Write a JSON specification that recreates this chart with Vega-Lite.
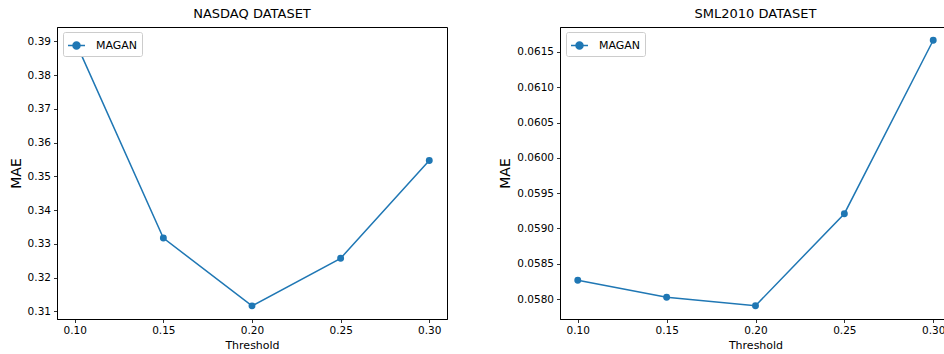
{
  "$schema": "https://vega.github.io/schema/vega-lite/v6.json",
  "padding": {"left": 8, "top": 7, "right": 0, "bottom": 0},
  "spacing": 50,
  "resolve": {"scale": {"color": "independent"}, "legend": {"color": "independent"}},
  "datasets": {
    "nasdaq": [
      {"threshold": 0.10, "mae": 0.3904, "series": "MAGAN"},
      {"threshold": 0.15, "mae": 0.3317, "series": "MAGAN"},
      {"threshold": 0.20, "mae": 0.3116, "series": "MAGAN"},
      {"threshold": 0.25, "mae": 0.3257, "series": "MAGAN"},
      {"threshold": 0.30, "mae": 0.3547, "series": "MAGAN"}
    ],
    "sml": [
      {"threshold": 0.10, "mae": 0.058266, "series": "MAGAN"},
      {"threshold": 0.15, "mae": 0.058024, "series": "MAGAN"},
      {"threshold": 0.20, "mae": 0.057905, "series": "MAGAN"},
      {"threshold": 0.25, "mae": 0.059209, "series": "MAGAN"},
      {"threshold": 0.30, "mae": 0.061666, "series": "MAGAN"}
    ]
  },
  "config": {
    "font": "DejaVu Sans",
    "view": {"stroke": "black", "strokeWidth": 1},
    "axis": {
      "grid": false,
      "labelFont": "DejaVu Sans",
      "labelFontSize": 10.5,
      "labelColor": "black",
      "tickColor": "black",
      "tickSize": 3.5,
      "tickWidth": 0.8,
      "domainColor": "black",
      "labelPadding": 3,
      "titleFont": "DejaVu Sans",
      "titleFontWeight": "normal",
      "titleColor": "black"
    },
    "title": {"font": "DejaVu Sans", "fontSize": 13, "fontWeight": "normal", "color": "black", "offset": 6},
    "legend": {
      "orient": "none",
      "legendX": 6,
      "legendY": 5,
      "title": null,
      "strokeColor": "#cccccc",
      "fillColor": "white",
      "cornerRadius": 2,
      "padding": 4,
      "labelFont": "DejaVu Sans",
      "labelFontSize": 11,
      "labelColor": "black",
      "symbolType": "M-1,0L1,0M-0.41,0A0.41,0.41,0,1,1,0.41,0A0.41,0.41,0,1,1,-0.41,0Z",
      "symbolSize": 289,
      "symbolStrokeWidth": 1.5,
      "symbolFillColor": "#1f77b4",
      "symbolStrokeColor": "#1f77b4",
      "labelOffset": 10
    }
  },
  "hconcat": [
    {
      "title": "NASDAQ DATASET",
      "width": 390,
      "height": 292,
      "data": {"name": "nasdaq"},
      "mark": {"type": "line", "strokeWidth": 1.5, "point": {"filled": true, "size": 48, "opacity": 1}},
      "encoding": {
        "x": {"field": "threshold", "type": "quantitative", "title": "Threshold",
              "scale": {"domain": [0.09, 0.31], "nice": false, "zero": false},
              "axis": {"values": [0.1, 0.15, 0.2, 0.25, 0.3], "format": ".2f", "titleFontSize": 11, "titlePadding": 3}},
        "y": {"field": "mae", "type": "quantitative", "title": "MAE",
              "scale": {"domain": [0.3077, 0.3943], "nice": false, "zero": false},
              "axis": {"values": [0.31, 0.32, 0.33, 0.34, 0.35, 0.36, 0.37, 0.38, 0.39], "format": ".2f", "titleFontSize": 14, "titlePadding": 4}},
        "color": {"field": "series", "type": "nominal", "scale": {"range": ["#1f77b4"]}}
      }
    },
    {
      "title": "SML2010 DATASET",
      "width": 391,
      "height": 292,
      "data": {"name": "sml"},
      "mark": {"type": "line", "strokeWidth": 1.5, "point": {"filled": true, "size": 48, "opacity": 1}},
      "encoding": {
        "x": {"field": "threshold", "type": "quantitative", "title": "Threshold",
              "scale": {"domain": [0.09, 0.31], "nice": false, "zero": false},
              "axis": {"values": [0.1, 0.15, 0.2, 0.25, 0.3], "format": ".2f", "titleFontSize": 11, "titlePadding": 3}},
        "y": {"field": "mae", "type": "quantitative", "title": "MAE",
              "scale": {"domain": [0.057717, 0.061854], "nice": false, "zero": false},
              "axis": {"values": [0.058, 0.0585, 0.059, 0.0595, 0.06, 0.0605, 0.061, 0.0615], "format": ".4f", "titleFontSize": 14, "titlePadding": 4}},
        "color": {"field": "series", "type": "nominal", "scale": {"range": ["#1f77b4"]}}
      }
    }
  ]
}
